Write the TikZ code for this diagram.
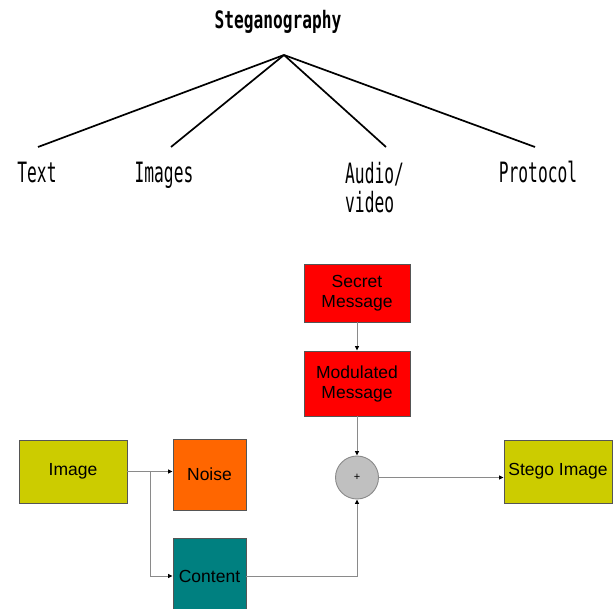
\documentclass[tikz,border=0pt]{standalone}
\usepackage{fontspec}
\usetikzlibrary{arrows.meta,calc}
\newfontfamily\arialf{Liberation Sans}
\newfontfamily\condmono[FakeStretch=0.58]{DejaVu Sans Mono}
\newfontfamily\titlemono[FakeStretch=0.675]{DejaVu Sans Mono}
\definecolor{olive1}{HTML}{CCCC00}
\definecolor{orange1}{HTML}{FF6600}
\definecolor{teal1}{HTML}{008080}
\definecolor{red1}{HTML}{FF0000}
\definecolor{gray1}{HTML}{C0C0C0}
\definecolor{edge1}{HTML}{555555}
\definecolor{conn1}{HTML}{8A8A8A}
\tikzset{
  box/.style={draw=edge1, line width=0.9pt, inner sep=0pt, align=center,
    font=\arialf\fontsize{17.5}{20}\selectfont},
  treelabel/.style={inner sep=0pt, font=\condmono\fontsize{28}{29}\selectfont},
  treeline/.style={black, line width=1.7pt},
  conn/.style={conn1, line width=1pt, -{Triangle[length=4.5pt,width=4pt,color=black]}},
  plainconn/.style={conn1, line width=1pt}
}
\begin{document}
\begin{tikzpicture}[x=1pt,y=-1pt]
\useasboundingbox (0,0) rectangle (616,609);
% ---------- tree ----------
\node[inner sep=0pt, anchor=base, font=\titlemono\bfseries\fontsize{24}{26}\selectfont] (title) at (278,29) {Steganography};
\coordinate (apex) at (284,55);
\coordinate (eText) at (38,147);
\coordinate (eImg) at (171,147);
\coordinate (eAud) at (386,147);
\coordinate (eProt) at (535,147);
\node[treelabel, anchor=base] (lText) at (37,183) {Text};
\node[treelabel, anchor=base] (lImg) at (164,183) {Images};
\node[treelabel, anchor=north west, align=left] (lAud) at (345,162) {Audio/\\video};
\node[treelabel, anchor=base] (lProt) at (538,183) {Protocol};
\draw[treeline] (apex) -- (eText);
\draw[treeline] (apex) -- (eImg);
\draw[treeline] (apex) -- (eAud);
\draw[treeline] (apex) -- (eProt);
% ---------- block diagram ----------
\node[box, fill=red1, minimum width=106pt, minimum height=58pt] (sec) at (357,293) {Secret\\Message};
\node[box, fill=red1, minimum width=106pt, minimum height=65pt] (mod) at (357,383.5) {Modulated\\Message};
\node[box, fill=olive1, minimum width=108pt, minimum height=63pt] (img) at (73,471.5) {Image};
\node[box, fill=orange1, minimum width=73pt, minimum height=71pt] (noise) at (209.5,474.5) {Noise};
\node[box, fill=teal1, minimum width=73pt, minimum height=76pt] (cont) at (209.5,576) {Content};
\node[circle, draw=conn1, line width=0.9pt, fill=gray1, minimum size=43pt, inner sep=0pt,
  font=\arialf\fontsize{11}{12}\selectfont] (sum) at (357,477.5) {+};
\node[box, fill=olive1, minimum width=108pt, minimum height=63pt] (stego) at (558,471.5) {Stego Image};
\coordinate (br) at ($(img.east)!0.5!(img.east -| noise.west)$);
\draw[conn] (img.east) -- (img.east -| noise.west);
\draw[conn] (br) |- (cont.west);
\draw[conn] (sec.south) -- (mod.north);
\draw[conn] (mod.south) -- (sum.north);
\draw[conn] (cont.east) -| (sum.south);
\draw[conn] (sum.east) -- (sum.east -| stego.west);
\end{tikzpicture}
\end{document}
